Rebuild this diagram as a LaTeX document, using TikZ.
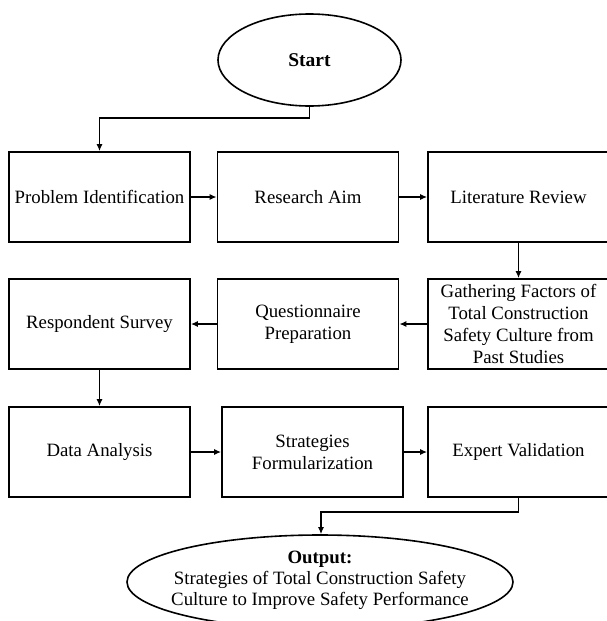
\documentclass[tikz,border=0pt]{standalone}
\usepackage{fontspec}
\setmainfont{Liberation Serif}
\usetikzlibrary{shapes.geometric,arrows.meta}
\begin{document}
\begin{tikzpicture}[x=1pt,y=-1pt,
  box/.style={draw,line width=1.8pt,minimum width=181pt,minimum height=90pt,inner sep=0pt,align=center,font=\fontsize{18.8}{22}\selectfont},
  oval/.style={draw,line width=1.6pt,ellipse,inner sep=0pt},
  conn/.style={line width=1.3pt,-{Latex[length=7pt,width=6pt]}},
  txt/.style={align=center,font=\fontsize{18.8}{21}\selectfont}]
\useasboundingbox[fill=white] (0,0) rectangle (607,621);
% start
\node[oval,minimum width=183pt,minimum height=92pt,font=\fontsize{19.5}{22}\selectfont\bfseries] (start) at (309.5,60) {Start};
% row 1
\node[box] (b1) at (99.5,197) {Problem Identification};
\node[box] (b2) at (308,197) {Research Aim};
\node[box] (b3) at (518.5,197) {Literature Review};
% row 2
\node[box] (c1) at (99.5,324) {Respondent Survey};
\node[box] (c2) at (308,324) {Questionnaire\\Preparation};
\node[box] (c3) at (518.5,324) {Gathering Factors of\\Total Construction\\Safety Culture from\\Past Studies};
% row 3
\node[box] (d1) at (99.5,452) {Data Analysis};
\node[box] (d2) at (312.5,452) {Strategies\\Formularization};
\node[box] (d3) at (518.5,452) {Expert Validation};
% output
\node[oval,minimum width=386pt,minimum height=94pt] (out) at (320,582) {};
\node[txt] (outtext) at (320,580) {\textbf{Output:}\\Strategies of Total Construction Safety\\Culture to Improve Safety Performance};
% connectors
\coordinate (k1) at (309.5,118);
\coordinate (k2) at (99.5,118);
\draw[conn] (start.south) -- (k1) -- (k2) -- (b1.north);
\draw[conn] (b1) -- (b2);
\draw[conn] (b2) -- (b3);
\draw[conn] (b3) -- (c3);
\draw[conn] (c3) -- (c2);
\draw[conn] (c2) -- (c1);
\draw[conn] (c1) -- (d1);
\draw[conn] (d1) -- (d2);
\draw[conn] (d2) -- (d3);
\coordinate (k3) at (518.5,512);
\coordinate (k4) at (321,512);
\draw[conn] (d3.south) -- (k3) -- (k4) -- (out.north -| k4);
\end{tikzpicture}
\end{document}
